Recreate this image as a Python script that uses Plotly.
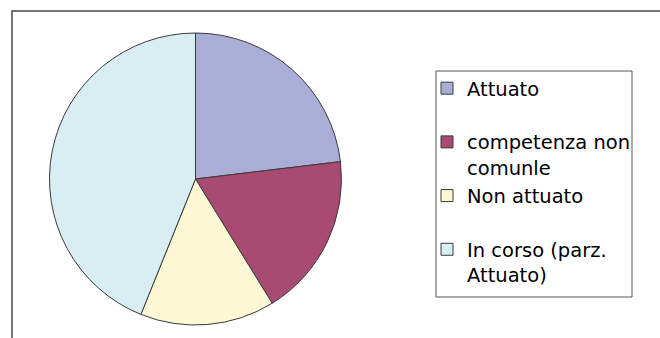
import plotly.graph_objects as go

labels = ["Attuato<br> ", "competenza non<br>comunle", "Non attuato<br> ", "In corso (parz.<br>Attuato)"]
values = [23.1, 18.1, 14.9, 43.9]
colors = ["#aaaed6", "#a84a72", "#fcf8d6", "#d8eef2"]

W, H = 660, 338
cx, cy, r = 195.5, 179, 146

fig = go.Figure(go.Pie(
    labels=labels,
    values=values,
    sort=False,
    direction="clockwise",
    rotation=0,
    textinfo="none",
    hoverinfo="label+percent",
    marker=dict(colors=colors, line=dict(color="#3a3a3a", width=1)),
    domain=dict(x=[(cx - r) / W, (cx + r) / W], y=[(H - cy - r) / H, (H - cy + r) / H]),
))

# outer frame
fig.add_shape(type="rect", xref="paper", yref="paper",
              x0=12 / W, x1=1.05, y0=-0.05, y1=1 - 11 / H,
              line=dict(color="#4a4a4a", width=1.5), fillcolor="rgba(0,0,0,0)", layer="below")
# legend box
fig.add_shape(type="rect", xref="paper", yref="paper",
              x0=436 / W, x1=632 / W, y0=1 - 297 / H, y1=1 - 71 / H,
              line=dict(color="#555555", width=1), fillcolor="white", layer="below")

fig.update_layout(
    width=W, height=H,
    margin=dict(l=0, r=0, t=0, b=0),
    paper_bgcolor="white",
    plot_bgcolor="white",
    showlegend=True,
    legend=dict(
        x=427 / W, y=1 - 69 / H, xanchor="left", yanchor="top",
        borderwidth=0, bgcolor="rgba(0,0,0,0)",
        font=dict(family="DejaVu Sans", size=19.5, color="#000000"),
        valign="top", traceorder="normal", tracegroupgap=0,
        itemwidth=30,
    ),
)

fig.write_html("out.html")
